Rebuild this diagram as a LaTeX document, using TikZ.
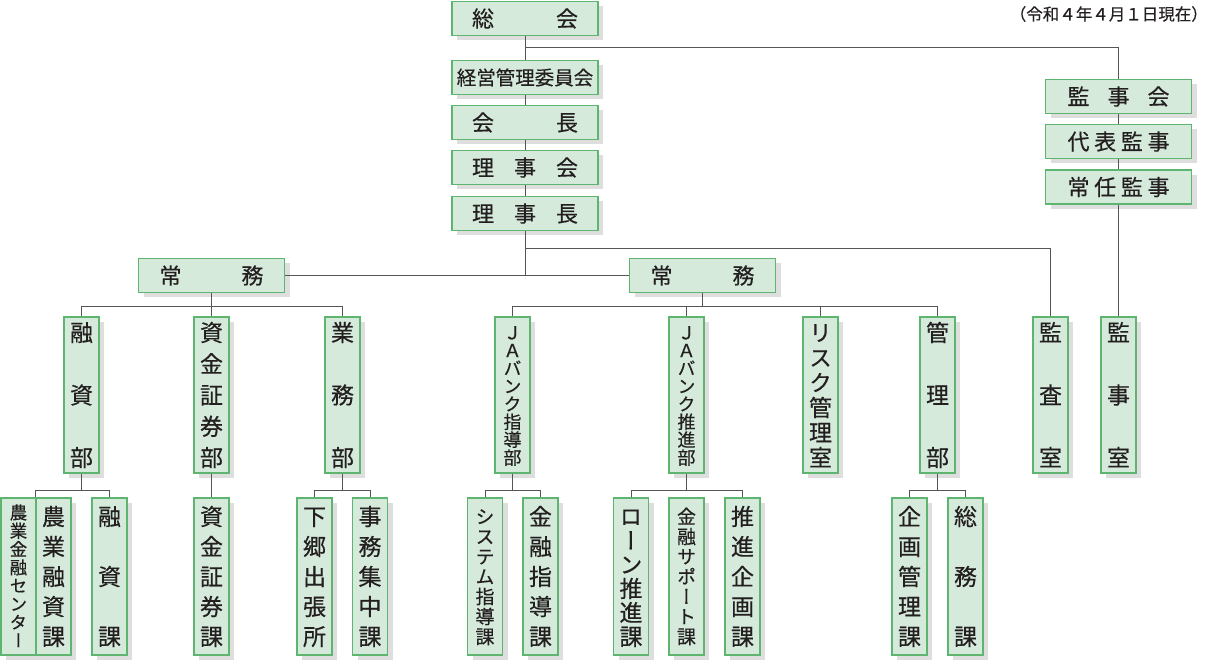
\documentclass[tikz,border=0pt]{standalone}
\usepackage{fontspec}
\setmainfont{Noto Sans CJK JP}[FakeBold=0.4]
\newfontfamily\tatefont[RawFeature=+vert, FakeBold=0.4]{Noto Sans CJK JP}
\usetikzlibrary{shadows}

\definecolor{boxfill}{HTML}{D5EADB}
\definecolor{boxline}{HTML}{5DB56F}
\definecolor{boxshadow}{HTML}{DEDEDE}
\definecolor{linkgray}{HTML}{555555}
\definecolor{textdark}{HTML}{231F20}

\newcommand{\yoko}[2]{\hbox to #1pt{\foreach \c [count=\n] in {#2}{\ifnum\n>1 \hfill\fi\c}}}
\newcommand{\tate}[2]{\vbox to #1pt{\offinterlineskip\foreach \c [count=\n] in {#2}{\ifnum\n>1 \vfill\fi\setbox0\hbox to 1em{\hss\lower.38em\hbox{\c}\hss}\ht0=0pt \dp0=0pt \box0}}}

\tikzset{
    box/.style={draw=boxline, fill=boxfill, line width=1.2pt, inner sep=0pt, text=textdark,
        minimum width=146pt, minimum height=34pt, font=\fontsize{22}{22}\selectfont,
        drop shadow={shadow xshift=5pt, shadow yshift=-5pt, fill=boxshadow, opacity=1}},
    tatebox/.style={box, minimum width=35pt, font=\tatefont\fontsize{23}{23}\selectfont},
    bu/.style={tatebox, minimum height=156pt},
    ka/.style={tatebox, minimum height=157pt},
    dicht/.style={font=\tatefont\fontsize{#1}{#1}\selectfont},
    link/.style={draw=linkgray, line width=1pt},
}

\begin{document}
\begin{tikzpicture}[x=1pt,y=-1pt]
    \useasboundingbox (0,0) rectangle (1210,660);

    % Spitze
    \node[box] (sokai) at (525,18.5) {\yoko{106}{総,会}};
    \node[box, font=\fontsize{19.5}{19.5}\selectfont] (keiei) at (525,77.5) {経営管理委員会};
    \node[box] (kaicho) at (525,122.5) {\yoko{106}{会,長}};
    \node[box] (rijikai) at (525,167.5) {\yoko{106}{理,事,会}};
    \node[box] (rijicho) at (525,213.5) {\yoko{106}{理,事,長}};

    \node[anchor=east, inner sep=0pt, text=textdark, font=\fontsize{16.5}{16.5}\selectfont] (kijun) at (1208,14) {（令和４年４月１日現在）};

    % Aufsicht
    \node[box] (kanjikai) at (1118.5,96.5) {\yoko{102}{監,事,会}};
    \node[box] (daihyo) at (1118.5,141.5) {\yoko{102}{代,表,監,事}};
    \node[box] (jonin) at (1118.5,187) {\yoko{102}{常,任,監,事}};

    \node[box] (jomuA) at (211.5,275.5) {\yoko{104}{常,務}};
    \node[box] (jomuB) at (702.5,275.5) {\yoko{104}{常,務}};

    % Abteilungen
    \node[bu] (yushibu) at (81.5,395) {\tate{125}{融,資,部}};
    \node[bu] (shikinbu) at (211.5,395) {\tate{125}{資,金,証,券,部}};
    \node[bu] (gyomubu) at (342.5,395) {\tate{125}{業,務,部}};
    \node[bu, dicht=18] (shidobu) at (512.5,395) {\tate{125}{Ｊ,Ａ,バ,ン,ク,指,導,部}};
    \node[bu, dicht=18] (suishinbu) at (686.5,395) {\tate{125}{Ｊ,Ａ,バ,ン,ク,推,進,部}};
    \node[bu] (risk) at (820.5,395) {\tate{125}{リ,ス,ク,管,理,室}};
    \node[bu] (kanribu) at (937.5,395) {\tate{125}{管,理,部}};
    \node[bu] (kansa) at (1050.5,395) {\tate{125}{監,査,室}};
    \node[bu] (kanjishitsu) at (1118.5,395) {\tate{125}{監,事,室}};

    % Sektionen
    \node[ka, dicht=17.5] (center) at (18.5,576.5) {\tate{128}{農,業,金,融,セ,ン,タ,ー}};
    \node[ka] (nogyoyushi) at (53.5,576.5) {\tate{120}{農,業,融,資,課}};
    \node[ka] (yushika) at (109.5,576.5) {\tate{120}{融,資,課}};
    \node[ka] (shikinka) at (211.5,576.5) {\tate{120}{資,金,証,券,課}};
    \node[ka] (shimogo) at (314.5,576.5) {\tate{120}{下,郷,出,張,所}};
    \node[ka] (jimu) at (370,576.5) {\tate{120}{事,務,集,中,課}};
    \node[ka, dicht=19] (system) at (485,576.5) {\tate{120}{シ,ス,テ,ム,指,導,課}};
    \node[ka] (kinyushido) at (540.5,576.5) {\tate{120}{金,融,指,導,課}};
    \node[ka] (loan) at (631,576.5) {\tate{120}{ロ,ー,ン,推,進,課}};
    \node[ka, dicht=19] (support) at (686.5,576.5) {\tate{120}{金,融,サ,ポ,ー,ト,課}};
    \node[ka] (kikaku) at (742.5,576.5) {\tate{120}{推,進,企,画,課}};
    \node[ka] (kikakukanri) at (909.5,576.5) {\tate{120}{企,画,管,理,課}};
    \node[ka] (somu) at (965.5,576.5) {\tate{120}{総,務,課}};

    % Linien
    \coordinate (kanjiline) at (0,48);
    \coordinate (kansaline) at (0,249);
    \coordinate (busA) at (0,307);
    \coordinate (busB) at (0,490.5);

    \draw[link] (sokai) -- (keiei) -- (kaicho) -- (rijikai) -- (rijicho);
    \draw[link] (sokai.south |- kanjiline) -| (kanjikai.north);
    \draw[link] (kanjikai) -- (daihyo) -- (jonin) -- (kanjishitsu);
    \draw[link] (rijicho.south) -- (rijicho.south |- jomuA.east);
    \draw[link] (jomuA) -- (jomuB);
    \draw[link] (rijicho.south |- kansaline) -| (kansa.north);

    \draw[link] (jomuA) -- (shikinbu);
    \draw[link] (yushibu.north) |- (gyomubu.north |- busA) -- (gyomubu.north);
    \draw[link] (jomuB.south) -- (jomuB.south |- busA);
    \draw[link] (shidobu.north) |- (kanribu.north |- busA) -- (kanribu.north);
    \draw[link] (suishinbu.north) -- (suishinbu.north |- busA);
    \draw[link] (risk.north) -- (risk.north |- busA);

    \draw[link] (yushibu.south) -- (yushibu.south |- busB);
    \draw[link] (nogyoyushi.north west) |- (yushika.north |- busB) -- (yushika.north);
    \draw[link] (shikinbu) -- (shikinka);
    \draw[link] (gyomubu.south) -- (gyomubu.south |- busB);
    \draw[link] (shimogo.north) |- (jimu.north |- busB) -- (jimu.north);
    \draw[link] (shidobu.south) -- (shidobu.south |- busB);
    \draw[link] (system.north) |- (kinyushido.north |- busB) -- (kinyushido.north);
    \draw[link] (suishinbu.south) -- (suishinbu.south |- busB);
    \draw[link] (loan.north) |- (kikaku.north |- busB) -- (kikaku.north);
    \draw[link] (kanribu.south) -- (kanribu.south |- busB);
    \draw[link] (kikakukanri.north) |- (somu.north |- busB) -- (somu.north);
\end{tikzpicture}
\end{document}
